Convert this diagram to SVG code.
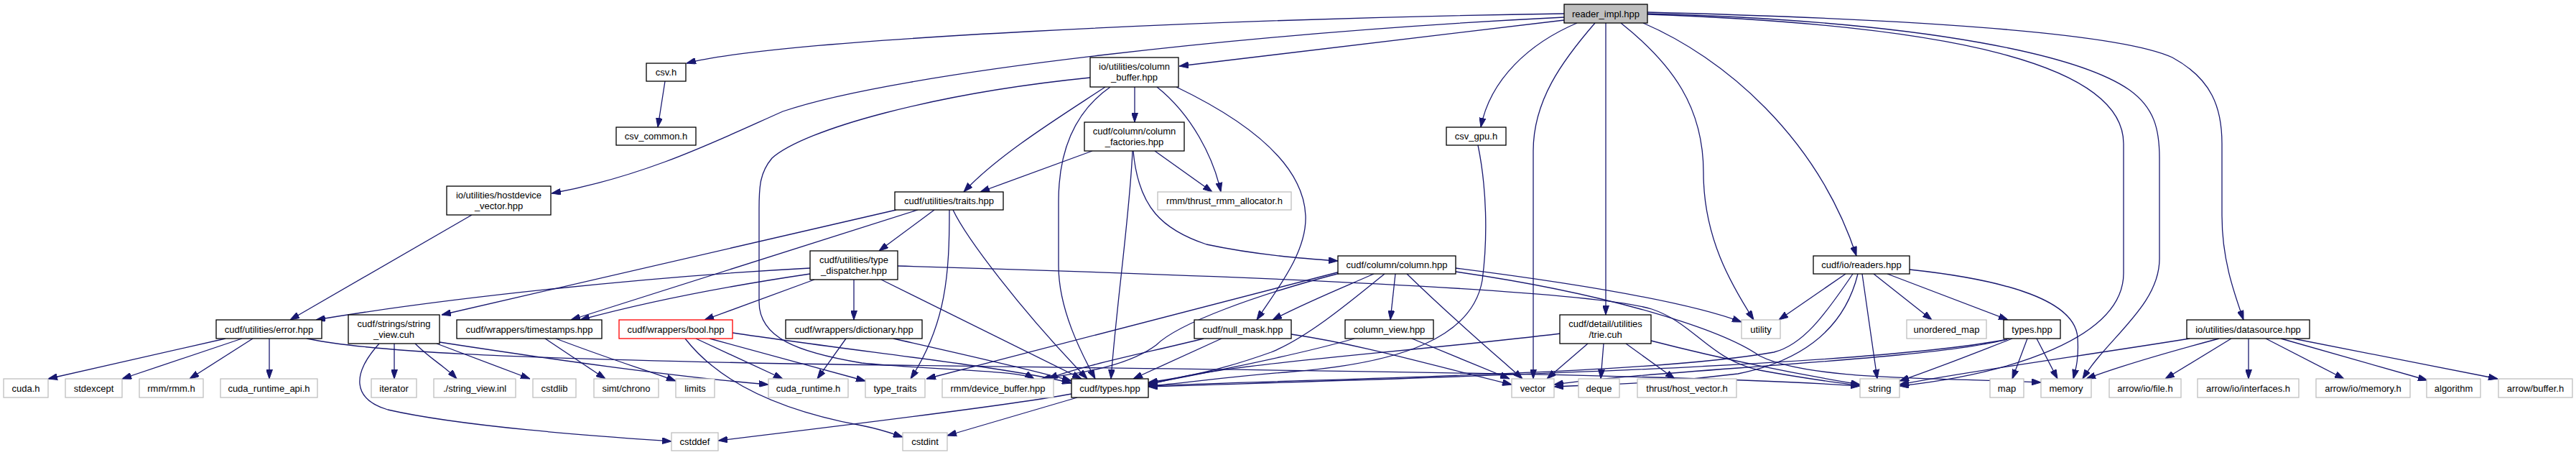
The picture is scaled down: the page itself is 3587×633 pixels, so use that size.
<svg xmlns="http://www.w3.org/2000/svg" width="3587" height="633" viewBox="0 0 3587 633">
<style>
.n rect{fill:#fff;stroke:#000;stroke-width:1.3}
.g rect{fill:#fff;stroke:#bfbfbf;stroke-width:1.3}
.r rect{fill:#fff;stroke:#ff0000;stroke-width:1.3}
.root rect{fill:#bfbfbf;stroke:#000;stroke-width:1.3}
text{font-family:"Liberation Sans",Arial,sans-serif;font-size:13px;text-anchor:middle;fill:#000}
#edges path{fill:none;stroke:#191970;stroke-width:1.3;marker-end:url(#a)}
</style>
<defs>
<marker id="a" markerUnits="userSpaceOnUse" markerWidth="13" markerHeight="9" refX="13" refY="4.5" orient="auto"><path d="M0,0 L13,4.5 L0,9 z" fill="#191970" stroke="#191970" stroke-width="1"/></marker>
</defs>
<rect width="3587" height="633" fill="#fff"/>
<g id="edges">
<path d="M2178,19 C1700,26 1080,55 956,88"/>
<path d="M2178,24 C1750,45 1250,100 1090,155 C1000,195 900,245 768,269"/>
<path d="M2178,28 C1950,55 1760,78 1642,92"/>
<path d="M2196,32 C2130,60 2075,110 2062,177"/>
<path d="M2221,32 C2175,85 2135,140 2135,210 L2135,527"/>
<path d="M2236,32 L2236,438"/>
<path d="M2257,32 C2330,90 2372,150 2372,240 C2372,330 2410,395 2442,445"/>
<path d="M2288,32 C2400,80 2530,190 2585,356"/>
<path d="M2294,20 C2720,35 2957,90 2957,200 L2957,380 C2957,470 2800,520 2645,537"/>
<path d="M2294,17 C2720,28 2960,50 3025,80 C3080,110 3094,150 3094,200 L3094,300 C3094,360 3110,405 3124,445"/>
<path d="M2294,19 C2700,30 2900,80 2965,125 C3000,150 3007,180 3007,220 L3007,360 C3007,425 2935,470 2900,527"/>
<path d="M926,113 L916,177"/>
<path d="M2058,202 C2070,260 2072,330 2064,390 C2050,470 1950,505 1800,517 C1700,525 1650,533 1599,537"/>
<path d="M657,299 L404,445"/>
<path d="M1580,121 L1580,170"/>
<path d="M1539,121 C1480,160 1390,215 1342,267"/>
<path d="M1546,121 C1490,160 1474,220 1474,280 L1474,370 C1474,430 1505,490 1525,527"/>
<path d="M1611,121 C1660,160 1690,220 1700,267"/>
<path d="M1638,121 C1740,170 1815,230 1818,300 C1820,350 1780,400 1750,445"/>
<path d="M1518,108 C1300,130 1120,180 1075,220 C1058,240 1057,260 1057,290 L1057,420 C1057,470 1110,490 1200,505 C1300,515 1420,515 1440,527"/>
<path d="M1521,210 L1365,267"/>
<path d="M1577,210 C1573,300 1555,420 1547,527"/>
<path d="M1578,210 C1585,290 1620,320 1680,340 C1750,355 1820,360 1863,363"/>
<path d="M1608,210 L1688,267"/>
<path d="M1301,292 L1224,349"/>
<path d="M1248,292 L615,438"/>
<path d="M1278,292 L795,445"/>
<path d="M1322,292 C1322,380 1318,450 1268,527"/>
<path d="M1327,292 C1345,330 1420,430 1514,527"/>
<path d="M1128,373 C900,385 620,415 440,445"/>
<path d="M1128,381 C1000,400 900,420 808,445"/>
<path d="M1134,389 L981,445"/>
<path d="M1189,389 L1189,445"/>
<path d="M1227,389 L1506,527"/>
<path d="M1250,370 C1600,380 2200,400 2300,430 C2360,450 2380,500 2450,515 C2520,528 2560,532 2590,537"/>
<path d="M1178,471 L1138,527"/>
<path d="M1244,471 C1350,495 1440,515 1492,530"/>
<path d="M759,471 L843,527"/>
<path d="M774,471 C850,500 900,515 941,530"/>
<path d="M954,471 C1000,530 1080,570 1200,592 C1230,598 1245,604 1257,608"/>
<path d="M969,471 L1090,527"/>
<path d="M988,471 L1205,530"/>
<path d="M1020,463 C1200,490 1400,510 1492,533"/>
<path d="M549,478 L549,527"/>
<path d="M578,478 C600,500 620,510 636,527"/>
<path d="M528,478 C490,520 490,555 540,570 C650,595 850,608 935,614"/>
<path d="M608,478 L738,527"/>
<path d="M612,476 C800,505 950,525 1070,535"/>
<path d="M314,471 L67,527"/>
<path d="M337,471 L170,527"/>
<path d="M352,471 L264,527"/>
<path d="M375,471 L375,527"/>
<path d="M427,471 C520,490 700,498 1100,506 C1700,515 2300,518 2590,537"/>
<path d="M1676,471 C1600,490 1500,510 1460,527"/>
<path d="M1701,471 L1578,527"/>
<path d="M1798,465 C1900,480 2000,510 2105,535"/>
<path d="M1943,381 L1936,445"/>
<path d="M1959,381 C2030,450 2090,500 2120,527"/>
<path d="M2027,373 C2200,395 2350,420 2425,448"/>
<path d="M2027,378 C2250,410 2400,460 2450,495 C2520,530 2700,525 2842,532"/>
<path d="M1913,381 C1870,400 1820,420 1772,445"/>
<path d="M1928,381 C1880,420 1820,470 1770,490 C1700,515 1650,525 1599,532"/>
<path d="M1866,378 L1290,527"/>
<path d="M1866,380 C1750,410 1640,450 1610,480 C1570,510 1500,520 1450,527"/>
<path d="M1886,471 C1820,490 1700,515 1599,534"/>
<path d="M1966,471 L2102,527"/>
<path d="M2173,464 C2000,485 1800,500 1700,515 C1650,522 1620,530 1599,535"/>
<path d="M2211,478 L2154,527"/>
<path d="M2233,478 L2229,527"/>
<path d="M2264,478 L2332,527"/>
<path d="M2299,474 C2400,500 2500,520 2590,535"/>
<path d="M2570,381 L2477,445"/>
<path d="M2587,381 C2570,450 2520,500 2420,520 C2300,535 2220,535 2164,538"/>
<path d="M2580,381 C2540,440 2510,480 2470,490 C2300,520 1900,525 1599,537"/>
<path d="M2593,381 L2614,527"/>
<path d="M2609,381 L2690,445"/>
<path d="M2628,381 L2796,445"/>
<path d="M2659,375 C2800,390 2890,420 2893,470 C2895,500 2890,515 2887,527"/>
<path d="M2823,471 L2802,527"/>
<path d="M2836,471 L2865,527"/>
<path d="M2802,471 C2740,495 2690,515 2645,530"/>
<path d="M2798,471 C2700,500 2300,515 2164,535"/>
<path d="M2795,472 C2600,510 2000,525 1599,538"/>
<path d="M3049,471 C2900,495 2750,515 2645,535"/>
<path d="M3090,471 C3000,495 2950,510 2905,527"/>
<path d="M3107,471 L3015,527"/>
<path d="M3131,471 L3131,527"/>
<path d="M3155,471 L3264,527"/>
<path d="M3176,471 L3380,529"/>
<path d="M3193,471 L3478,527"/>
<path d="M1492,548 C1400,565 1150,595 1000,613"/>
<path d="M1500,553 L1319,606"/>
</g>
<g id="reader_impl" class="root"><rect x="2178" y="6" width="116" height="26"/><text x="2236" y="24">reader_impl.hpp</text></g>
<g id="csv_h" class="n"><rect x="900" y="88" width="55" height="25"/><text x="927.5" y="105">csv.h</text></g>
<g id="csv_common" class="n"><rect x="858" y="177" width="111" height="25"/><text x="913.5" y="194">csv_common.h</text></g>
<g id="column_buffer" class="n"><rect x="1518" y="80" width="123" height="41"/><text x="1579.5" y="97">io/utilities/column</text><text x="1579.5" y="112">_buffer.hpp</text></g>
<g id="column_factories" class="n"><rect x="1510" y="170" width="139" height="40"/><text x="1579.5" y="187">cudf/column/column</text><text x="1579.5" y="202">_factories.hpp</text></g>
<g id="csv_gpu" class="n"><rect x="2014" y="177" width="83" height="25"/><text x="2055.5" y="194">csv_gpu.h</text></g>
<g id="hostdevice_vector" class="n"><rect x="622" y="259" width="145" height="40"/><text x="694.5" y="276">io/utilities/hostdevice</text><text x="694.5" y="291">_vector.hpp</text></g>
<g id="traits" class="n"><rect x="1246" y="267" width="151" height="25"/><text x="1321.5" y="284">cudf/utilities/traits.hpp</text></g>
<g id="thrust_rmm_allocator" class="g"><rect x="1612" y="267" width="186" height="25"/><text x="1705" y="284">rmm/thrust_rmm_allocator.h</text></g>
<g id="type_dispatcher" class="n"><rect x="1128" y="349" width="122" height="40"/><text x="1189" y="366">cudf/utilities/type</text><text x="1189" y="381">_dispatcher.hpp</text></g>
<g id="column" class="n"><rect x="1863" y="356" width="164" height="25"/><text x="1945" y="373">cudf/column/column.hpp</text></g>
<g id="readers" class="n"><rect x="2525" y="356" width="134" height="25"/><text x="2592" y="373">cudf/io/readers.hpp</text></g>
<g id="error" class="n"><rect x="301" y="445" width="147" height="26"/><text x="374.5" y="463">cudf/utilities/error.hpp</text></g>
<g id="string_view" class="n"><rect x="485" y="438" width="127" height="40"/><text x="548.5" y="455">cudf/strings/string</text><text x="548.5" y="470">_view.cuh</text></g>
<g id="timestamps" class="n"><rect x="636" y="445" width="202" height="26"/><text x="737" y="463">cudf/wrappers/timestamps.hpp</text></g>
<g id="bool" class="r"><rect x="862" y="445" width="158" height="26"/><text x="941" y="463">cudf/wrappers/bool.hpp</text></g>
<g id="dictionary" class="n"><rect x="1094" y="445" width="190" height="26"/><text x="1189" y="463">cudf/wrappers/dictionary.hpp</text></g>
<g id="null_mask" class="n"><rect x="1663" y="445" width="135" height="26"/><text x="1730.5" y="463">cudf/null_mask.hpp</text></g>
<g id="column_view" class="n"><rect x="1873" y="445" width="123" height="26"/><text x="1934.5" y="463">column_view.hpp</text></g>
<g id="trie" class="n"><rect x="2172" y="438" width="127" height="40"/><text x="2235.5" y="455">cudf/detail/utilities</text><text x="2235.5" y="470">/trie.cuh</text></g>
<g id="utility" class="g"><rect x="2425" y="445" width="54" height="26"/><text x="2452" y="463">utility</text></g>
<g id="unordered_map" class="g"><rect x="2655" y="445" width="111" height="26"/><text x="2710.5" y="463">unordered_map</text></g>
<g id="io_types" class="n"><rect x="2790" y="445" width="79" height="26"/><text x="2829.5" y="463">types.hpp</text></g>
<g id="datasource" class="n"><rect x="3045" y="445" width="171" height="26"/><text x="3130.5" y="463">io/utilities/datasource.hpp</text></g>
<g id="cuda_h" class="g"><rect x="5" y="527" width="62" height="26"/><text x="36" y="545">cuda.h</text></g>
<g id="stdexcept" class="g"><rect x="91" y="527" width="79" height="26"/><text x="130.5" y="545">stdexcept</text></g>
<g id="rmm_h" class="g"><rect x="194" y="527" width="89" height="26"/><text x="238.5" y="545">rmm/rmm.h</text></g>
<g id="cuda_runtime_api" class="g"><rect x="307" y="527" width="135" height="26"/><text x="374.5" y="545">cuda_runtime_api.h</text></g>
<g id="iterator" class="g"><rect x="517" y="527" width="63" height="26"/><text x="548.5" y="545">iterator</text></g>
<g id="string_view_inl" class="g"><rect x="604" y="527" width="114" height="26"/><text x="661" y="545">./string_view.inl</text></g>
<g id="cstdlib" class="g"><rect x="742" y="527" width="60" height="26"/><text x="772" y="545">cstdlib</text></g>
<g id="simt_chrono" class="g"><rect x="827" y="527" width="90" height="26"/><text x="872" y="545">simt/chrono</text></g>
<g id="limits" class="g"><rect x="941" y="527" width="54" height="26"/><text x="968" y="545">limits</text></g>
<g id="cuda_runtime" class="g"><rect x="1070" y="527" width="111" height="26"/><text x="1125.5" y="545">cuda_runtime.h</text></g>
<g id="type_traits" class="g"><rect x="1205" y="527" width="83" height="26"/><text x="1246.5" y="545">type_traits</text></g>
<g id="device_buffer" class="g"><rect x="1312" y="527" width="155" height="26"/><text x="1389.5" y="545">rmm/device_buffer.hpp</text></g>
<g id="cudf_types" class="n"><rect x="1492" y="527" width="107" height="26"/><text x="1545.5" y="545">cudf/types.hpp</text></g>
<g id="vector" class="g"><rect x="2105" y="527" width="59" height="26"/><text x="2134.5" y="545">vector</text></g>
<g id="deque" class="g"><rect x="2198" y="527" width="57" height="26"/><text x="2226.5" y="545">deque</text></g>
<g id="host_vector" class="g"><rect x="2280" y="527" width="138" height="26"/><text x="2349" y="545">thrust/host_vector.h</text></g>
<g id="string" class="g"><rect x="2590" y="527" width="55" height="26"/><text x="2617.5" y="545">string</text></g>
<g id="map" class="g"><rect x="2771" y="527" width="47" height="26"/><text x="2794.5" y="545">map</text></g>
<g id="memory" class="g"><rect x="2842" y="527" width="70" height="26"/><text x="2877" y="545">memory</text></g>
<g id="arrow_file" class="g"><rect x="2937" y="527" width="100" height="26"/><text x="2987" y="545">arrow/io/file.h</text></g>
<g id="arrow_interfaces" class="g"><rect x="3060" y="527" width="141" height="26"/><text x="3130.5" y="545">arrow/io/interfaces.h</text></g>
<g id="arrow_memory" class="g"><rect x="3225" y="527" width="131" height="26"/><text x="3290.5" y="545">arrow/io/memory.h</text></g>
<g id="algorithm" class="g"><rect x="3379" y="527" width="75" height="26"/><text x="3416.5" y="545">algorithm</text></g>
<g id="arrow_buffer" class="g"><rect x="3479" y="527" width="103" height="26"/><text x="3530.5" y="545">arrow/buffer.h</text></g>
<g id="cstddef" class="g"><rect x="935" y="602" width="65" height="25"/><text x="967.5" y="619">cstddef</text></g>
<g id="cstdint" class="g"><rect x="1257" y="602" width="62" height="25"/><text x="1288" y="619">cstdint</text></g>
</svg>
